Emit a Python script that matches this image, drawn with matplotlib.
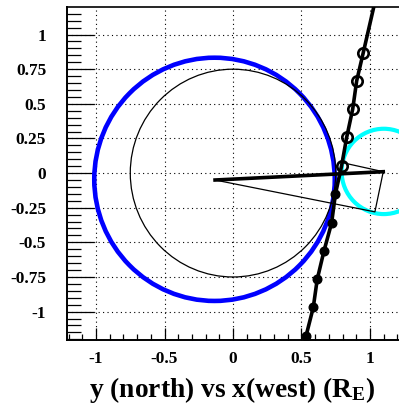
import numpy as np
import matplotlib
matplotlib.use('Agg')
import matplotlib.pyplot as plt
from matplotlib.patches import Circle
from matplotlib.ticker import MultipleLocator, FuncFormatter

plt.rcParams['font.family'] = ['Liberation Serif', 'DejaVu Serif']
plt.rcParams['font.weight'] = 'bold'
plt.rcParams['axes.unicode_minus'] = False
plt.rcParams['mathtext.fontset'] = 'custom'
plt.rcParams['mathtext.rm'] = 'Liberation Serif:bold'
plt.rcParams['mathtext.it'] = 'Liberation Serif:bold'
plt.rcParams['mathtext.bf'] = 'Liberation Serif:bold'

# trajectory points: filled below y=0, open above
traj_x = [0.533, 0.586, 0.615, 0.664, 0.720, 0.748, 0.793, 0.830, 0.874, 0.903, 0.951]
traj_y = [-1.177, -0.970, -0.767, -0.563, -0.360, -0.150, 0.053, 0.258, 0.462, 0.666, 0.869]
traj_end_x = 1.035
traj_end_y = 1.23
n_filled = 6

# spoke from centre of blue circle and the thin triangle
spoke_x = [-0.131, 1.097]
spoke_y = [-0.050, 0.010]
tri_x = [0.800, 1.097, 1.036, -0.131]
tri_y = [0.075, 0.010, -0.280, -0.050]

# circles: (centre x, centre y, radius)
blue_circ = (-0.135, -0.045, 0.878)
earth_circ = (0.0, 0.0, 0.75)
cyan_circ = (1.101, 0.012, 0.308)

fig = plt.figure(figsize=(3.99, 4.08), dpi=100)
ax = fig.add_axes([67/399, 68/408, 332/399, 333/408])

ax.add_patch(Circle(blue_circ[:2], blue_circ[2], fill=False, ec=(0, 0, 1), lw=3.3, zorder=2))
ax.add_patch(Circle(cyan_circ[:2], cyan_circ[2], fill=False, ec=(0, 1, 1), lw=3.0, zorder=2))
ax.add_patch(Circle(earth_circ[:2], earth_circ[2], fill=False, ec='black', lw=0.9, zorder=3))

ax.plot(tri_x, tri_y, color='black', lw=0.9, zorder=4)
ax.plot(spoke_x, spoke_y, color='black', lw=2.6, zorder=5)

ax.plot(traj_x + [traj_end_x], traj_y + [traj_end_y], color='black', lw=2.6, zorder=6)
ax.plot(traj_x[:n_filled], traj_y[:n_filled], 'o', color='black', ms=6.2, zorder=7)
ax.plot(traj_x[n_filled:], traj_y[n_filled:], 'o', mfc='none', mec='black', mew=1.9, ms=7.5, zorder=7)

ax.set_xlim(-1.212, 1.212)
ax.set_ylim(-1.205, 1.199)

ax.xaxis.set_major_locator(MultipleLocator(0.5))
ax.xaxis.set_minor_locator(MultipleLocator(0.1))
ax.yaxis.set_major_locator(MultipleLocator(0.25))
ax.yaxis.set_minor_locator(MultipleLocator(0.05))
fmt = FuncFormatter(lambda v, p: '%g' % round(v, 3))
ax.xaxis.set_major_formatter(fmt)
ax.yaxis.set_major_formatter(fmt)

ax.grid(True, which='major', color='black', linestyle=(0, (1, 3)), linewidth=0.8)
ax.tick_params(axis='y', which='major', direction='in', length=19.5, width=0.9, pad=15, labelsize=12.5)
ax.tick_params(axis='y', which='minor', direction='in', length=10, width=0.9)
ax.tick_params(axis='x', which='major', direction='in', length=8.6, width=0.9, pad=8, labelsize=12.5)
ax.tick_params(axis='x', which='minor', direction='in', length=4.3, width=0.9)
for lab in ax.get_xticklabels() + ax.get_yticklabels():
    lab.set_fontweight('bold')

ax.spines['right'].set_visible(False)
ax.spines['left'].set_linewidth(1.4)
ax.spines['bottom'].set_linewidth(1.4)
ax.spines['top'].set_linewidth(1.2)

fig.text(232/399, 11/408, 'y (north) vs x(west) (R$_\\mathrm{E}$)', ha='center', va='baseline',
         fontsize=19.8, fontweight='bold')

plt.savefig('out.png', dpi=100)
